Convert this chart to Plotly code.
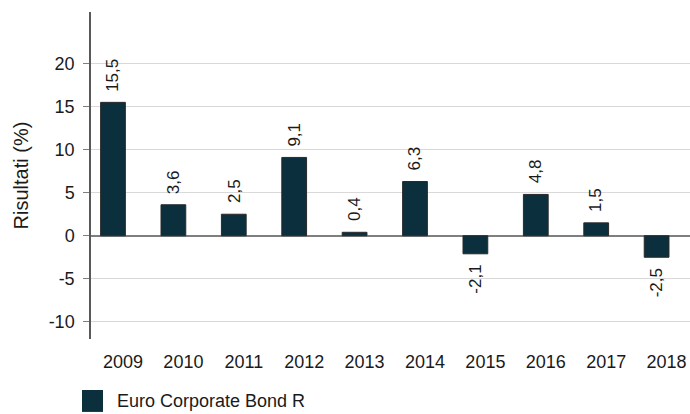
import plotly.graph_objects as go

years = ["2009", "2010", "2011", "2012", "2013", "2014", "2015", "2016", "2017", "2018"]
values = [15.5, 3.6, 2.5, 9.1, 0.4, 6.3, -2.1, 4.8, 1.5, -2.5]
labels = ["15,5", "3,6", "2,5", "9,1", "0,4", "6,3", "-2,1", "4,8", "1,5", "-2,5"]
series_name = "Euro Corporate Bond R"
y_ticks = [-10, -5, 0, 5, 10, 15, 20]

bar_color = "#0b2f3c"
font_family = "Liberation Sans, Arial, sans-serif"
positions = list(range(len(years)))

fig = go.Figure()
fig.add_trace(go.Bar(
    x=positions, y=values, name=series_name,
    marker=dict(color=bar_color, line=dict(color="#2a2a2a", width=1)),
    width=0.41, showlegend=False,
))

annotations = []
for i, v, lab in zip(positions, values, labels):
    annotations.append(dict(
        x=i, y=v, xref="x", yref="y", text=lab, showarrow=False,
        textangle=-90, font=dict(family=font_family, size=17, color="#1a1a1a"),
        xanchor="center", yanchor="bottom" if v >= 0 else "top",
        yshift=9 if v >= 0 else -9,
    ))

# legend (manual, to match the large square swatch)
annotations.append(dict(
    x=0.040, y=-0.19, xref="paper", yref="paper", text=series_name,
    showarrow=False, xanchor="left", yanchor="middle",
    font=dict(family=font_family, size=18, color="#1a1a1a"),
))

fig.update_layout(
    width=690, height=414,
    margin=dict(l=91, r=0, t=12, b=75),
    plot_bgcolor="white", paper_bgcolor="white",
    font=dict(family=font_family, size=17, color="#1a1a1a"),
    annotations=annotations,
    shapes=[dict(
        type="rect", xref="paper", yref="paper",
        x0=-0.015, x1=0.020, y0=-0.223, y1=-0.156,
        fillcolor=bar_color, line=dict(width=0),
    )],
    xaxis=dict(
        range=[-0.364, 9.553], tickvals=positions, ticktext=years,
        showgrid=False, showline=False, ticks="", zeroline=False,
        ticklabelshift=10, ticklabelstandoff=10, automargin=False,
        tickfont=dict(size=18),
    ),
    yaxis=dict(
        range=[-12, 26], tickvals=y_ticks, ticktext=[str(t) for t in y_ticks],
        showgrid=True, gridcolor="#d9d9d9", gridwidth=1,
        zeroline=True, zerolinecolor="#7f7f7f", zerolinewidth=1.5,
        showline=True, linecolor="#595959", linewidth=1.5,
        ticks="outside", ticklen=6, tickcolor="#7f7f7f",
        ticklabelstandoff=5,
        tickfont=dict(size=18), automargin=False,
        title=dict(text="Risultati (%)", font=dict(size=20), standoff=15),
    ),
)

fig.write_html("out.html", config={"displayModeBar": False},
               post_script="document.body.style.margin='0';")
